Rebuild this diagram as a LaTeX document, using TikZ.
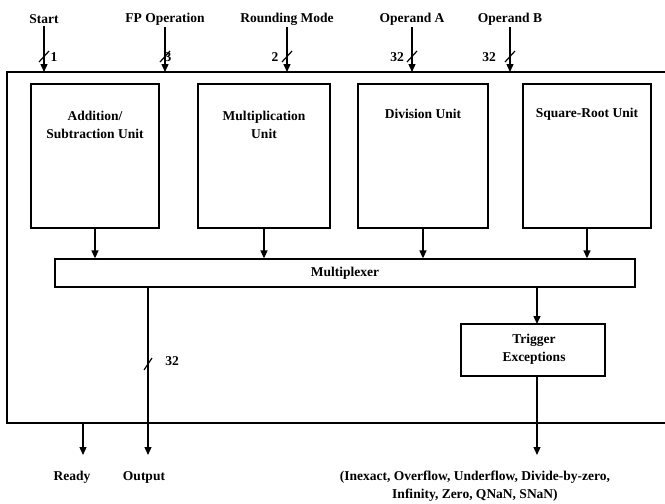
\documentclass[tikz,border=0pt]{standalone}
\usepackage{fontspec}
\setmainfont{Liberation Serif}
\usetikzlibrary{arrows.meta}
\begin{document}
\begin{tikzpicture}[x=1pt,y=-1pt,
  every node/.style={font=\fontsize{13.5}{18.5}\selectfont\bfseries, inner sep=0pt},
  wire/.style={line width=1.3pt},
  arr/.style={wire,-{Triangle[length=8pt,width=7pt]}},
  unit/.style={draw, line width=1.3pt, minimum width=128pt, minimum height=144pt},
  slash/.style={line width=1.2pt},
  lbl/.style={anchor=center}
]
\useasboundingbox (0,0) rectangle (665,504);
\begin{scope}
\clip (0,0) rectangle (665,504);
\draw[wire] (7,72) rectangle (675,423);
\end{scope}

% inputs
\foreach \n/\x/\t in {start/44/Start, fpop/165/FP Operation, rmode/287/Rounding Mode, opa/412/Operand A, opb/510/Operand B}{
  \node[lbl] (\n) at (\x,19) {\t};
  \coordinate (\n-in) at (\x,72);
  \draw[arr] (\n.south) ++(0,2) -- (\n-in);
  \draw[slash] (\x-5,62) -- (\x+5,51);
}
\node[lbl] (b1) at (54,57) {1};
\node[lbl] (b3) at (168,57) {3};
\node[lbl] (b2) at (275,57) {2};
\node[lbl] (b32a) at (397,57) {32};
\node[lbl] (b32b) at (489,57) {32};

% units
\node[unit, minimum width=128pt] (add) at (95,156) {};
\node[unit, minimum width=132pt] (mult) at (264,156) {};
\node[unit, minimum width=130pt] (div) at (423,156) {};
\node[unit, minimum width=128pt] (sqrt) at (587,156) {};
\node[align=center] (addt) at (95,125) {Addition/\\Subtraction Unit};
\node[align=center] (multt) at (264,125) {Multiplication\\Unit};
\node (divt) at (423,114) {Division Unit};
\node (sqrtt) at (587,114) {Square-Root Unit};

% multiplexer
\node[draw, line width=1.3pt, minimum width=580pt, minimum height=28pt] (mux) at (345,273) {};
\node (muxt) at (345,273) {Multiplexer};
\foreach \u in {add,mult,div,sqrt}{
  \draw[arr] (\u.south) -- (\u.south |- mux.north);
}

% trigger
\node[draw, line width=1.3pt, minimum width=144pt, minimum height=52pt] (trig) at (533,350) {};
\node[align=center] (trigt) at (534,349) {Trigger\\Exceptions};
\coordinate (muxtr) at (537,287);
\draw[arr] (muxtr) -- (537,324);

% outputs
\coordinate (rdytop) at (83,423);
\coordinate (rdyend) at (83,455);
\coordinate (outtop) at (148,287);
\coordinate (outend) at (148,455);
\coordinate (trigbot) at (537,376);
\coordinate (excend) at (537,455);
\draw[arr] (rdytop) -- (rdyend);
\draw[arr] (outtop) -- (outend);
\draw[arr] (trigbot) -- (excend);
\draw[slash] (144,370) -- (152,358);
\node (o32) at (172,361) {32};

\node (ready) at (72,477) {Ready};
\node (output) at (144,477) {Output};
\node[align=center] (exc) at (475,486) {(Inexact, Overflow, Underflow, Divide-by-zero,\\Infinity, Zero, QNaN, SNaN)};
\end{tikzpicture}
\end{document}
